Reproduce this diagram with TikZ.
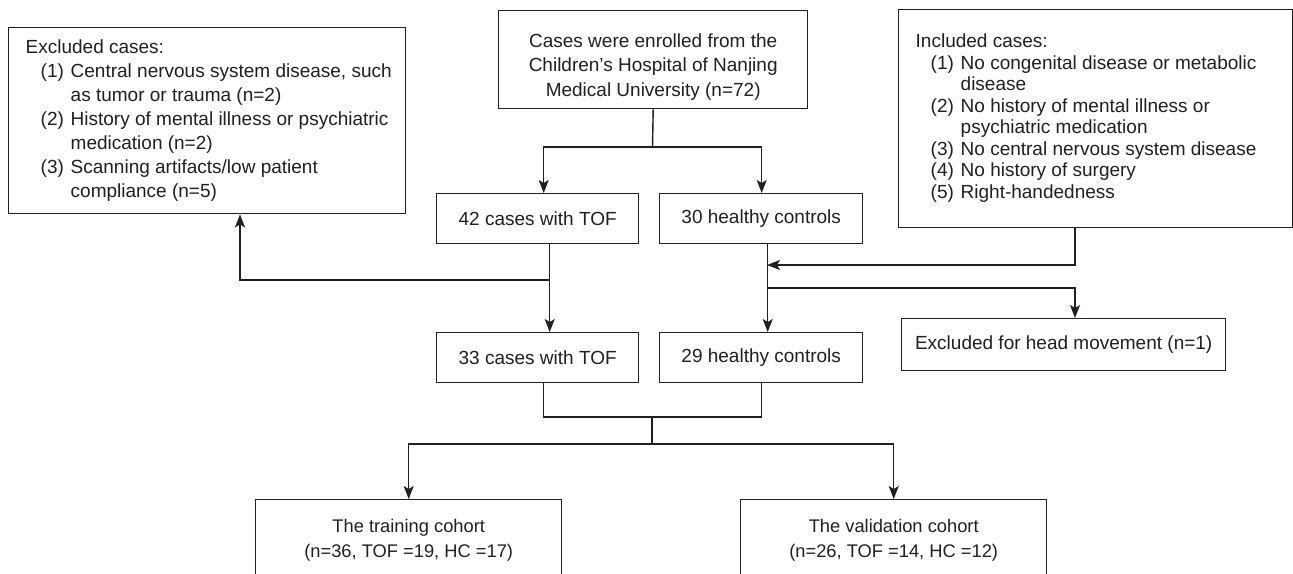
\documentclass[tikz,border=0pt]{standalone}
\usepackage{fontspec}
\setmainfont{Liberation Sans}
\usetikzlibrary{arrows.meta}
\definecolor{ink}{HTML}{231F20}
\newcommand{\itmline}[2]{\hspace*{15pt}\makebox[30pt][l]{#1}#2}
\newcommand{\contline}[1]{\hspace*{45pt}#1}
\newcommand{\fontA}{\fontsize{19pt}{24pt}\selectfont}
\newcommand{\fontB}{\fontsize{19pt}{24.5pt}\selectfont}
\newcommand{\fontC}{\fontsize{19pt}{21.5pt}\selectfont}
\newcommand{\fontD}{\fontsize{18.3pt}{25pt}\selectfont}
\begin{document}
\begin{tikzpicture}[x=1pt,y=-1pt,
  box/.style={draw=ink, line width=1.4pt, text=ink, inner xsep=0pt, inner ysep=0pt,
    anchor=north west, align=center, font=\fontA},
  conn/.style={draw=ink, line width=1.4pt},
  arr/.style={conn, -{Stealth[length=13pt,width=10pt,inset=3pt]}}]
\useasboundingbox (0,0) rectangle (1293,573);
\fill[white] (0,0) rectangle (1293,573);

% boxes
\node[box, minimum width=397pt, minimum height=186pt, font=\fontA] (excl) at (8,27)
 {\makebox[363pt][l]{\begin{tabular}{@{}l@{}}
  Excluded cases:\\
  \itmline{(1)}{Central nervous system disease, such}\\
  \contline{as tumor or trauma (n=2)}\\
  \itmline{(2)}{History of mental illness or psychiatric}\\
  \contline{medication (n=2)}\\
  \itmline{(3)}{Scanning artifacts/low patient}\\
  \contline{compliance (n=5)}
  \end{tabular}}};

\node[box, minimum width=309pt, minimum height=98pt, font=\fontB] (top) at (498,10)
 {\begin{tabular}{@{}c@{}}
  \rule{0pt}{31pt}Cases were enrolled from the\\Children's Hospital of Nanjing\\Medical University (n=72)
  \end{tabular}};

\node[box, minimum width=394pt, minimum height=218pt, font=\fontC] (incl) at (898,9)
 {\makebox[360pt][l]{\begin{tabular}{@{}l@{}}
  Included cases:\\
  \itmline{(1)}{No congenital disease or metabolic}\\
  \contline{disease}\\
  \itmline{(2)}{No history of mental illness or}\\
  \contline{psychiatric medication}\\
  \itmline{(3)}{No central nervous system disease}\\
  \itmline{(4)}{No history of surgery}\\
  \itmline{(5)}{Right-handedness}
  \end{tabular}}};

\node[box, minimum width=202pt, minimum height=50pt] (n42) at (436,193) {42 cases with TOF};
\node[box, minimum width=203pt, minimum height=50pt] (n30) at (659,193) {30 healthy controls};
\node[box, minimum width=202pt, minimum height=50pt] (n33) at (436,332) {33 cases with TOF};
\node[box, minimum width=203pt, minimum height=50pt] (n29) at (659,332) {29 healthy controls};
\node[box, minimum width=324pt, minimum height=52pt] (head) at (901,318) {Excluded for head movement (n=1)};

\node[box, minimum width=306pt, minimum height=81pt, font=\fontD] (train) at (255,499)
 {\begin{tabular}{@{}c@{}}The training cohort\\(n=36, TOF =19, HC =17)\end{tabular}};
\node[box, minimum width=306pt, minimum height=81pt, font=\fontD] (valid) at (740,499)
 {\begin{tabular}{@{}c@{}}The validation cohort\\(n=26, TOF =14, HC =12)\end{tabular}};

% junction coordinates
\coordinate (sp) at (652.5,147);
\coordinate (lb) at (549,280);
\coordinate (lx) at (240,280);
\coordinate (ix) at (1075,265);
\coordinate (rj) at (767,265);
\coordinate (rb) at (767,288);
\coordinate (hx) at (1075,288);
\coordinate (mj) at (652,417);
\coordinate (bj) at (652,444);

% connectors
\draw[conn] (top.south) -- (sp);
\draw[arr] (sp) -| ([xshift=6pt]n42.north);
\draw[arr] (sp) -| ([xshift=.5pt]n30.north);

\draw[arr] ([xshift=12pt]n42.south) -- ([xshift=12pt]n33.north);
\draw[arr] (lb) -- (lx) -- (lx |- excl.south);

\draw[arr] ([xshift=6.5pt]n30.south) -- ([xshift=6.5pt]n29.north);
\draw[arr] (incl.south -| ix) -- (ix) -- (rj);
\draw[arr] (rb) -- (hx) -- (head.north -| hx);

\draw[conn] ([xshift=6pt]n33.south) |- (mj);
\draw[conn] ([xshift=.5pt]n29.south) |- (mj);
\draw[conn] (mj) -- (bj);
\draw[arr] (bj) -| (train.north);
\draw[arr] (bj) -| (valid.north);
\end{tikzpicture}
\end{document}
